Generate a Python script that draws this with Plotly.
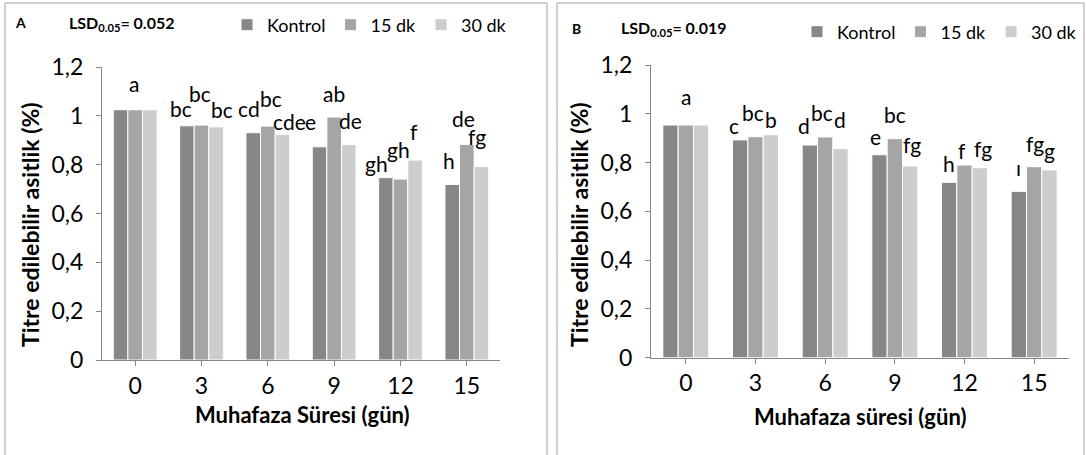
import plotly.graph_objects as go

# ---------------- data ----------------
days = ["0", "3", "6", "9", "12", "15"]
series_names = ["Kontrol", "15 dk", "30 dk"]

# Panel A (titre edilebilir asitlik, %)
a_kontrol = [1.025, 0.959, 0.931, 0.873, 0.747, 0.719]
a_15dk = [1.025, 0.962, 0.958, 0.995, 0.741, 0.883]
a_30dk = [1.025, 0.955, 0.923, 0.882, 0.819, 0.792]

# Panel B
b_kontrol = [0.954, 0.893, 0.872, 0.832, 0.719, 0.682]
b_15dk = [0.954, 0.906, 0.905, 0.898, 0.790, 0.783]
b_30dk = [0.954, 0.914, 0.857, 0.786, 0.779, 0.770]

# significance letters per day: [Kontrol, 15 dk, 30 dk]
a_letters = [["", "a", ""], ["bc", "bc", "bc"], ["cd", "bc", "cde"],
             ["e", "ab", "de"], ["gh", "gh", "f"], ["h", "de", "fg"]]
b_letters = [["", "a", ""], ["c", "bc", "b"], ["d", "bc", "d"],
             ["e", "bc", "fg"], ["h", "f", "fg"], ["ı", "fg", "g"]]

lsd_a = "0.052"
lsd_b = "0.019"

# ---------------- style / layout ----------------
W, H = 1086, 455
colors = ["#878787", "#a5a5a5", "#cdcdcd"]
FONT = "Lato"
BARGAP = 0.34

# pixel nudges (dx, dy) for letter labels relative to bar top
a_nudges = [[(0, 0), (-1, 26), (0, 0)],
            [(-6, 17), (-2, 32), (6, 17)],
            [(-4, 24), (3, 28), (7, 13)],
            [(-9, 25), (0, 24), (2, 24)],
            [(-9, 14), (-2, 30), (-1, 29)],
            [(-3, 24), (-3, 26), (-4, 30)]]
b_nudges = [[(0, 0), (0, 28), (0, 0)],
            [(-6, 14), (-3, 24), (0, 15)],
            [(-6, 19), (-3, 24), (0, 29)],
            [(-4, 18), (0, 24), (2, 21)],
            [(0, 19), (-3, 15), (3, 19)],
            [(0, 24), (1, 23), (0, 19)]]


def px_x(p):
    return p / W


def px_y(p):
    return 1 - p / H


fig = go.Figure()
xs = list(range(len(days)))

for vals, name, col in zip([a_kontrol, a_15dk, a_30dk], series_names, colors):
    fig.add_trace(go.Bar(x=xs, y=vals, name=name, marker=dict(color=col, line=dict(color="white", width=1)),
                         xaxis="x", yaxis="y", legend="legend"))
for vals, name, col in zip([b_kontrol, b_15dk, b_30dk], series_names, colors):
    fig.add_trace(go.Bar(x=xs, y=vals, name=name, marker=dict(color=col, line=dict(color="white", width=1)),
                         xaxis="x2", yaxis="y2", legend="legend2"))

annotations = []
bw = (1 - BARGAP) / 3
for letters, nudges, series, xr, yr in [
    (a_letters, a_nudges, [a_kontrol, a_15dk, a_30dk], "x", "y"),
    (b_letters, b_nudges, [b_kontrol, b_15dk, b_30dk], "x2", "y2"),
]:
    for i in range(len(days)):
        for j in range(3):
            t = letters[i][j]
            if not t:
                continue
            dx, dy = nudges[i][j]
            annotations.append(dict(x=i + (j - 1) * bw, y=series[j][i], xref=xr, yref=yr, text=t,
                                    showarrow=False, xanchor="center", yanchor="middle",
                                    xshift=dx, yshift=dy, font=dict(family=FONT, size=21, color="black")))


def paper_text(x, y, text, size, xanchor="center", angle=0):
    return dict(x=px_x(x), y=px_y(y), xref="paper", yref="paper", text=text, showarrow=False,
                xanchor=xanchor, yanchor="middle", textangle=angle,
                font=dict(family=FONT, size=size, color="black"))


annotations += [
    paper_text(20, 22, "<b>A</b>", 14),
    paper_text(67, 23, "<b>LSD<sub>0.05</sub>= " + lsd_a + "</b>", 16, xanchor="left"),
    paper_text(576, 28, "<b>B</b>", 14),
    paper_text(619, 29, "<b>LSD<sub>0.05</sub>= " + lsd_b + "</b>", 16, xanchor="left"),
    paper_text(30, 225, "<b>Titre edilebilir asitlik (%)</b>", 23, angle=-90),
    paper_text(579, 225, "<b>Titre edilebilir asitlik (%)</b>", 23, angle=-90),
    paper_text(302, 414, "<b>Muhafaza Süresi (gün)</b>", 22),
    paper_text(860, 416, "<b>Muhafaza süresi (gün)</b>", 22),
]

shapes = [
    dict(type="rect", xref="paper", yref="paper", x0=px_x(5), x1=px_x(547), y0=px_y(470), y1=px_y(3),
         line=dict(color="#a0a0a0", width=1)),
    dict(type="rect", xref="paper", yref="paper", x0=px_x(557), x1=px_x(1084), y0=px_y(470), y1=px_y(3),
         line=dict(color="#a0a0a0", width=1)),
]

axis_common = dict(showgrid=False, zeroline=False, showline=True, linecolor="#868686", linewidth=1,
                   ticks="outside", ticklen=5, tickcolor="#868686", automargin=False,
                   tickfont=dict(family=FONT, size=23, color="black"))

fig.update_layout(
    width=W, height=H, margin=dict(l=0, r=0, t=0, b=0, autoexpand=False),
    paper_bgcolor="white", plot_bgcolor="white",
    barmode="group", bargap=BARGAP, bargroupgap=0,
    separators=",.",
    xaxis=dict(domain=[px_x(102), px_x(500)], range=[-0.5, 5.5], tickvals=xs, ticktext=days,
               anchor="y", ticklabelstandoff=0, **axis_common),
    yaxis=dict(domain=[px_y(360), px_y(67)], range=[0, 1.2], dtick=0.2, anchor="x",
               ticklabelstandoff=8, **axis_common),
    xaxis2=dict(domain=[px_x(651), px_x(1069)], range=[-0.5, 5.5], tickvals=xs, ticktext=days,
                anchor="y2", ticklabelstandoff=0, **axis_common),
    yaxis2=dict(domain=[px_y(357.7), px_y(65)], range=[0, 1.2], dtick=0.2, anchor="x2",
                ticklabelstandoff=8, **axis_common),
    legend=dict(orientation="h", xref="container", yref="container",
                x=px_x(512), xanchor="right", y=px_y(25), yanchor="middle",
                font=dict(family=FONT, size=18, color="black"), itemwidth=30, bgcolor="rgba(0,0,0,0)"),
    legend2=dict(orientation="h", xref="container", yref="container",
                 x=px_x(1082), xanchor="right", y=px_y(32), yanchor="middle",
                 font=dict(family=FONT, size=18, color="black"), itemwidth=30, bgcolor="rgba(0,0,0,0)"),
    annotations=annotations,
    shapes=shapes,
)

fig.write_html("out.html", config={"displayModeBar": False},
               post_script="document.body.style.margin='0';")
